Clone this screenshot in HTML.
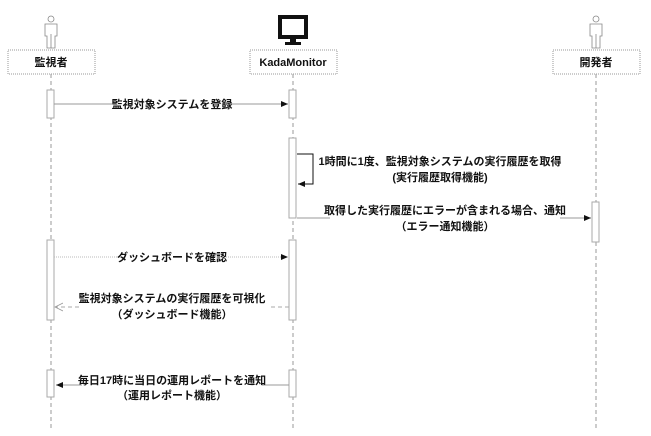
<!DOCTYPE html>
<html><head><meta charset="utf-8"><style>
body{margin:0;background:#fff;}
svg text{font-family:"Liberation Sans","Noto Sans CJK JP",sans-serif;font-size:11px;font-weight:bold;fill:#111;}
</style></head><body>
<svg width="651" height="431" xmlns="http://www.w3.org/2000/svg">
<defs>
<marker id="a" markerWidth="8" markerHeight="8" refX="7" refY="4" orient="auto" markerUnits="userSpaceOnUse"><path d="M0,1 L7,4 L0,7z" fill="#111"/></marker>
<marker id="o" markerWidth="10" markerHeight="10" refX="8" refY="5" orient="auto" markerUnits="userSpaceOnUse"><path d="M0,1 L8,5 L0,9" fill="none" stroke="#999" stroke-width="0.8"/></marker>
</defs>
<g stroke="#999" stroke-dasharray="4,3" stroke-width="1">
<line x1="51" y1="74" x2="51" y2="431"/><line x1="293" y1="74" x2="293" y2="431"/><line x1="596" y1="74" x2="596" y2="431"/>
<line x1="51" y1="30" x2="51" y2="50"/><line x1="596" y1="30" x2="596" y2="50"/>
</g>
<g stroke="#999" fill="#fff" stroke-dasharray="1,1">
<rect x="8" y="50" width="87" height="24"/><rect x="250" y="50" width="87" height="24"/><rect x="553" y="50" width="87" height="24"/>
</g>
<text x="51" y="66" text-anchor="middle">監視者</text>
<text x="293" y="66" text-anchor="middle">KadaMonitor</text>
<text x="596" y="66" text-anchor="middle">開発者</text>
<g fill="#fff" stroke="#888" stroke-width="0.8">
<circle cx="51" cy="19" r="3"/><path d="M45,24 h12 v12 h-2 v12 h-8 v-12 h-2z"/><line x1="51" y1="34" x2="51" y2="48"/>
<circle cx="596" cy="19" r="3"/><path d="M590,24 h12 v12 h-2 v12 h-8 v-12 h-2z"/><line x1="596" y1="34" x2="596" y2="48"/>
</g>
<rect x="280" y="17" width="26" height="20" fill="none" stroke="#111" stroke-width="4"/>
<rect x="290" y="38" width="6" height="5" fill="#111"/><rect x="285" y="42" width="16" height="3" fill="#111"/>
<g fill="#fff" stroke="#aaa">
<rect x="47" y="90" width="7" height="28"/><rect x="289" y="90" width="7" height="28"/>
<rect x="289" y="138" width="7" height="80"/><rect x="592" y="202" width="7" height="40"/>
<rect x="47" y="240" width="7" height="80"/><rect x="289" y="240" width="7" height="80"/>
<rect x="47" y="370" width="7" height="27"/><rect x="289" y="370" width="7" height="27"/>
</g>
<line x1="54" y1="104" x2="288" y2="104" stroke="#999" marker-end="url(#a)"/>
<rect x="112" y="97" width="120" height="14" fill="#fff"/>
<text x="172" y="108" text-anchor="middle">監視対象システムを登録</text>
<path d="M297,154 H313 V184 H298" fill="none" stroke="#111" marker-end="url(#a)"/>
<text x="440" y="165" text-anchor="middle">1時間に1度、監視対象システムの実行履歴を取得</text>
<text x="440" y="181" text-anchor="middle">(実行履歴取得機能)</text>
<line x1="297" y1="218" x2="591" y2="218" stroke="#999" marker-end="url(#a)"/>
<rect x="330" y="203" width="230" height="30" fill="#fff"/>
<text x="445" y="214" text-anchor="middle">取得した実行履歴にエラーが含まれる場合、通知</text>
<text x="445" y="230" text-anchor="middle">（エラー通知機能）</text>
<line x1="54" y1="257" x2="288" y2="257" stroke="#bbb" stroke-dasharray="1,1" marker-end="url(#a)"/>
<rect x="122" y="250" width="100" height="14" fill="#fff"/>
<text x="172" y="261" text-anchor="middle">ダッシュボードを確認</text>
<line x1="289" y1="307" x2="55" y2="307" stroke="#aaa" stroke-dasharray="4,3" marker-end="url(#o)"/>
<rect x="80" y="292" width="190" height="30" fill="#fff"/>
<text x="172" y="302" text-anchor="middle">監視対象システムの実行履歴を可視化</text>
<text x="172" y="318" text-anchor="middle">（ダッシュボード機能）</text>
<line x1="289" y1="385" x2="56" y2="385" stroke="#999" marker-end="url(#a)"/>
<rect x="82" y="372" width="180" height="30" fill="#fff"/>
<text x="172" y="384" text-anchor="middle">毎日17時に当日の運用レポートを通知</text>
<text x="172" y="399" text-anchor="middle">（運用レポート機能）</text>
</svg>
</body></html>
